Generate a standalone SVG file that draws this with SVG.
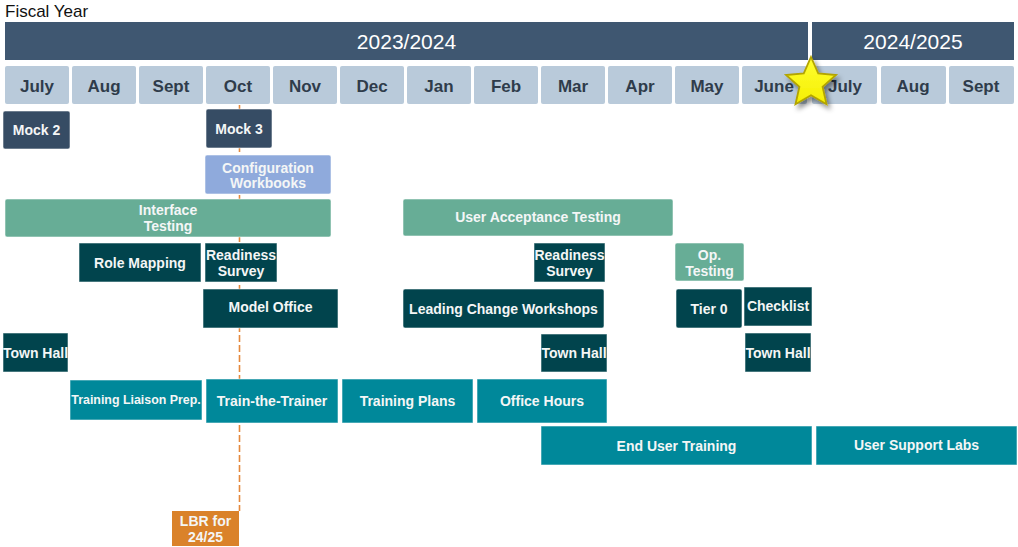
<svg xmlns="http://www.w3.org/2000/svg" width="1018" height="547" viewBox="0 0 1018 547">
  <style>
    text { font-family: "Liberation Sans", Arial, sans-serif; }
    .title { font-size: 17px; fill: #111111; }
    .fy { fill: #3F5771; }
    .fyt { font-size: 21px; fill: #FFFFFF; text-anchor: middle; }
    .mo { fill: #B9CADA; }
    .mot { font-size: 17px; font-weight: bold; fill: #2F3C4B; text-anchor: middle; }
    .box { stroke: #FFFFFF; stroke-opacity: 0.55; stroke-width: 1; }
    .t { font-size: 14px; font-weight: bold; fill: #F4F6F6; text-anchor: middle; }
    .ts { font-size: 12.4px; font-weight: bold; fill: #F4F6F6; text-anchor: middle; }
    .slate { fill: #364C64; }
    .periw { fill: #8FAADC; }
    .green { fill: #67AD96; }
    .dteal { fill: #01444D; }
    .mteal { fill: #00889A; }
    .orng { fill: #DA822A; }
    .marker { stroke: #E5893C; stroke-width: 1.6; stroke-dasharray: 7 3; fill: none; }
  </style>
  <defs>
    <filter id="shadow" x="-40%" y="-40%" width="180%" height="180%">
      <feDropShadow dx="3" dy="4" stdDeviation="2.5" flood-color="#000000" flood-opacity="0.45"/>
    </filter>
    <linearGradient id="starFill" x1="0" y1="0" x2="0" y2="1">
      <stop offset="0" stop-color="#FFFF33"/>
      <stop offset="1" stop-color="#F5EE00"/>
    </linearGradient>
  </defs>

  <rect width="1018" height="547" fill="#FFFFFF"/>

  <text class="title" x="5" y="17">Fiscal Year</text>

  <!-- fiscal year bars -->
  <g id="fy-2023-2024">
    <rect class="fy" x="5" y="22" width="803" height="38"/>
    <text class="fyt" x="406.5" y="49">2023/2024</text>
  </g>
  <g id="fy-2024-2025">
    <rect class="fy" x="812" y="22" width="202" height="38"/>
    <text class="fyt" x="913" y="49">2024/2025</text>
  </g>

  <!-- month row -->
  <g id="months">
    <rect class="mo" x="5" y="66" width="64" height="38" rx="2"/><text class="mot" x="37" y="92">July</text>
    <rect class="mo" x="72" y="66" width="64" height="38" rx="2"/><text class="mot" x="104" y="92">Aug</text>
    <rect class="mo" x="139" y="66" width="64" height="38" rx="2"/><text class="mot" x="171" y="92">Sept</text>
    <rect class="mo" x="206" y="66" width="64" height="38" rx="2"/><text class="mot" x="238" y="92">Oct</text>
    <rect class="mo" x="273" y="66" width="64" height="38" rx="2"/><text class="mot" x="305" y="92">Nov</text>
    <rect class="mo" x="340" y="66" width="64" height="38" rx="2"/><text class="mot" x="372" y="92">Dec</text>
    <rect class="mo" x="407" y="66" width="64" height="38" rx="2"/><text class="mot" x="439" y="92">Jan</text>
    <rect class="mo" x="474" y="66" width="64" height="38" rx="2"/><text class="mot" x="506" y="92">Feb</text>
    <rect class="mo" x="541" y="66" width="64" height="38" rx="2"/><text class="mot" x="573" y="92">Mar</text>
    <rect class="mo" x="608" y="66" width="64" height="38" rx="2"/><text class="mot" x="640" y="92">Apr</text>
    <rect class="mo" x="675" y="66" width="64" height="38" rx="2"/><text class="mot" x="707" y="92">May</text>
    <rect class="mo" x="742" y="66" width="65" height="38" rx="2"/><text class="mot" x="774" y="92">June</text>
    <rect class="mo" x="812" y="66" width="65" height="38" rx="2"/><text class="mot" x="845" y="92">July</text>
    <rect class="mo" x="881" y="66" width="65" height="38" rx="2"/><text class="mot" x="913" y="92">Aug</text>
    <rect class="mo" x="949" y="66" width="65" height="38" rx="2"/><text class="mot" x="981" y="92">Sept</text>
  </g>

  <!-- dashed milestone line down to LBR -->
  <g id="connectors">
    <line class="marker" x1="239.5" y1="105" x2="239.5" y2="511"/>
  </g>

  <g id="mock-2">
    <rect class="box slate" x="3" y="111" width="67" height="38" rx="2"/>
    <text class="t" x="36.5" y="134.5">Mock 2</text>
  </g>
  <g id="mock-3">
    <rect class="box slate" x="206" y="109" width="66" height="39" rx="2"/>
    <text class="t" x="239" y="134">Mock 3</text>
  </g>
  <g id="configuration-workbooks">
    <rect class="box periw" x="205" y="155" width="126" height="39" rx="2"/>
    <text class="t" x="268" y="172.5">Configuration</text>
    <text class="t" x="268" y="187.5">Workbooks</text>
  </g>
  <g id="interface-testing">
    <rect class="box green" x="5" y="199" width="326" height="38" rx="2"/>
    <text class="t" x="168" y="214.5">Interface</text>
    <text class="t" x="168" y="231">Testing</text>
  </g>
  <g id="user-acceptance-testing">
    <rect class="box green" x="403" y="199" width="270" height="37" rx="2"/>
    <text class="t" x="538" y="222">User Acceptance Testing</text>
  </g>
  <g id="role-mapping">
    <rect class="box dteal" x="79" y="243" width="122" height="39"/>
    <text class="t" x="140" y="267.5">Role Mapping</text>
  </g>
  <g id="readiness-survey-1">
    <rect class="box dteal" x="205" y="243" width="72" height="39"/>
    <text class="t" x="241" y="259.5">Readiness</text>
    <text class="t" x="241" y="276">Survey</text>
  </g>
  <g id="readiness-survey-2">
    <rect class="box dteal" x="534" y="243" width="71" height="39"/>
    <text class="t" x="569.5" y="259.5">Readiness</text>
    <text class="t" x="569.5" y="276">Survey</text>
  </g>
  <g id="op-testing">
    <rect class="box green" x="675" y="243" width="69" height="38" rx="2"/>
    <text class="t" x="709.5" y="260">Op.</text>
    <text class="t" x="709.5" y="276">Testing</text>
  </g>
  <g id="model-office">
    <rect class="box dteal" x="203" y="289" width="135" height="39"/>
    <text class="t" x="270.5" y="312">Model Office</text>
  </g>
  <g id="leading-change-workshops">
    <rect class="box dteal" x="403" y="289" width="201" height="39" rx="2"/>
    <text class="t" x="503.5" y="313.5">Leading Change Workshops</text>
  </g>
  <g id="tier-0">
    <rect class="box dteal" x="676" y="289" width="66" height="39" rx="2"/>
    <text class="t" x="709" y="313.5">Tier 0</text>
  </g>
  <g id="checklist">
    <rect class="box dteal" x="744" y="287" width="68" height="39"/>
    <text class="t" x="778" y="311">Checklist</text>
  </g>
  <g id="town-hall-1">
    <rect class="box dteal" x="3" y="333" width="65" height="39"/>
    <text class="t" x="35.5" y="357.5">Town Hall</text>
  </g>
  <g id="town-hall-2">
    <rect class="box dteal" x="541" y="334" width="66" height="38"/>
    <text class="t" x="574" y="358">Town Hall</text>
  </g>
  <g id="town-hall-3">
    <rect class="box dteal" x="745" y="333" width="66" height="39"/>
    <text class="t" x="778" y="357.5">Town Hall</text>
  </g>
  <g id="training-liaison-prep">
    <rect class="box mteal" x="70" y="380" width="132" height="40"/>
    <text class="ts" x="136" y="404">Training Liaison Prep.</text>
  </g>
  <g id="train-the-trainer">
    <rect class="box mteal" x="206" y="379" width="132" height="44"/>
    <text class="t" x="272" y="405.5">Train-the-Trainer</text>
  </g>
  <g id="training-plans">
    <rect class="box mteal" x="342" y="379" width="131" height="44"/>
    <text class="t" x="407.5" y="405.5">Training Plans</text>
  </g>
  <g id="office-hours">
    <rect class="box mteal" x="477" y="379" width="130" height="44"/>
    <text class="t" x="542" y="405.5">Office Hours</text>
  </g>
  <g id="end-user-training">
    <rect class="box mteal" x="541" y="426" width="271" height="39"/>
    <text class="t" x="676.5" y="450.5">End User Training</text>
  </g>
  <g id="user-support-labs">
    <rect class="box mteal" x="816" y="426" width="201" height="39"/>
    <text class="t" x="916.5" y="450">User Support Labs</text>
  </g>
  <g id="lbr-24-25">
    <rect class="orng" x="172" y="511" width="67" height="35"/>
    <text class="t" x="205.5" y="525.5">LBR for</text>
    <text class="t" x="205.5" y="541.5">24/25</text>
  </g>

  <!-- year-end star between June and July -->
  <g id="year-end-star" filter="url(#shadow)">
    <polygon fill="url(#starFill)" stroke="#B3A400" stroke-width="1.8" stroke-linejoin="miter"
      points="811,57 818.2,73.3 836,75 822.6,86.8 826.5,104.2 811,95.2 795.5,104.2 799.4,86.8 786,75 803.8,73.3"/>
  </g>
</svg>
